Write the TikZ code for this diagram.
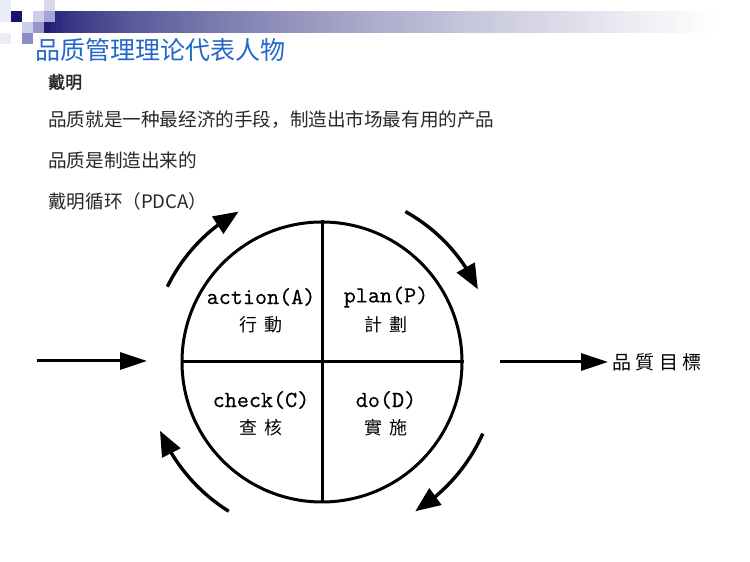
\documentclass[tikz,border=0pt]{standalone}
\usepackage{fontspec}
\usetikzlibrary{arrows.meta,bending}
\newfontfamily\cjksc{Noto Sans CJK SC}
\newfontfamily\cjkscb[FakeBold=2]{Noto Sans CJK SC}
\newfontfamily\cjktc{Noto Sans CJK TC}
\newfontfamily\latmono[Extension=.otf, FakeBold=0.2]{lmmono10-regular}
\definecolor{navy}{RGB}{22,22,112}
\definecolor{lav1}{RGB}{205,205,232}
\definecolor{lav2}{RGB}{215,215,238}
\definecolor{lav3}{RGB}{165,165,215}
\definecolor{lav4}{RGB}{150,150,205}
\definecolor{lav5}{RGB}{140,140,200}
\definecolor{faint}{RGB}{236,236,246}
\definecolor{titleblue}{RGB}{36,104,204}
\definecolor{bodytext}{RGB}{40,40,40}
\tikzset{
  bodyline/.style={anchor=west, inner sep=0pt, text=bodytext, font=\cjksc\fontsize{18.6pt}{20pt}\selectfont},
  latlab/.style={inner sep=0pt, font=\latmono\fontsize{23pt}{24pt}\selectfont},
  cjklab/.style={inner sep=0pt, font=\cjktc\fontsize{18pt}{20pt}\selectfont},
  cyclearrow/.style={line width=3.4pt, -{Triangle[length=25pt,width=20pt]}},
  flowarrow/.style={line width=3pt, -{Triangle[length=27pt,width=17pt]}}
}
\begin{document}
\begin{tikzpicture}[x=1pt,y=1pt]
\useasboundingbox (0,0) rectangle (750,562);
\fill[white] (0,0) rectangle (750,562);
% header bar (graded from navy to white)
\foreach \i in {0,...,119}{
  \pgfmathsetmacro{\xa}{44+\i*5.9}
  \pgfmathsetmacro{\tt}{min(1,(\i+0.5)/114)}
  \pgfmathsetmacro{\p}{100*(1-pow(\tt,0.62))}
  \fill[navy!\p!white] (\xa,529) rectangle (\xa+6.1,551);
}
% decorative squares
\fill[faint] (0,540) rectangle (11,562);
\fill[faint] (0,518) rectangle (11,529);
\fill[navy] (11,540) rectangle (22,551);
\fill[lav1] (33,540) rectangle (44,551);
\fill[lav2] (44,551) rectangle (55,562);
\fill[lav3] (44,540) rectangle (55,551);
\fill[lav1] (22,529) rectangle (33,540);
\fill[lav4] (33,529) rectangle (44,540);
\fill[lav5] (22,518) rectangle (33,529);
% title and body text
\node[anchor=west, inner sep=0pt, text=titleblue, font=\cjksc\fontsize{25pt}{27pt}\selectfont] (title) at (35,512) {品质管理理论代表人物};
\node[anchor=west, inner sep=0pt, text=bodytext, font=\cjkscb\fontsize{17pt}{19pt}\selectfont] (deming) at (48,480) {戴明};
\node[bodyline] (l1) at (48,442) {品质就是一种最经济的手段，制造出市场最有用的产品};
\node[bodyline] (l2) at (48,402) {品质是制造出来的};
\node[bodyline] (l3) at (48,361) {戴明循环（PDCA）};
% PDCA circle
\node[circle, draw, line width=3pt, minimum size=280pt, inner sep=0pt] (pdca) at (322,200) {};
\draw[line width=3pt] (pdca.north) -- (pdca.south);
\draw[line width=3pt] (pdca.west) -- (pdca.east);
\node[latlab] (aL) at (261,265) {action(A)};
\node[cjklab] (aC) at (261,237) {行\hspace{8pt}動};
\node[latlab] (pL) at (386,265) {plan(P)};
\node[cjklab] (pC) at (386,237) {計\hspace{8pt}劃};
\node[latlab] (cL) at (261,162) {check(C)};
\node[cjklab] (cC) at (261,134) {查\hspace{8pt}核};
\node[latlab] (dL) at (386,162) {do(D)};
\node[cjklab] (dC) at (386,134) {實\hspace{8pt}施};
% cycle arrows
\draw[cyclearrow] ([shift={(154:172)}]pdca.center) arc[start angle=154, end angle=119, radius=172];
\draw[cyclearrow] ([shift={(61:172)}]pdca.center) arc[start angle=61, end angle=25, radius=172];
\draw[cyclearrow] ([shift={(-24:176)}]pdca.center) arc[start angle=-24, end angle=-58, radius=176];
\draw[cyclearrow] ([shift={(238:176)}]pdca.center) arc[start angle=238, end angle=203, radius=176];
% input / output arrows
\coordinate (inStart) at (37,201);
\coordinate (inEnd) at (147,201);
\coordinate (outStart) at (500,200);
\node[anchor=west, inner sep=0pt, font=\cjktc\fontsize{19pt}{21pt}\selectfont] (goal) at (612,200) {品\hspace{4.5pt}質\hspace{4.5pt}目\hspace{4.5pt}標};
\draw[flowarrow] (inStart) -- (inEnd);
\draw[flowarrow] (outStart) -- ([xshift=-4pt]goal.west);
\end{tikzpicture}
\end{document}
